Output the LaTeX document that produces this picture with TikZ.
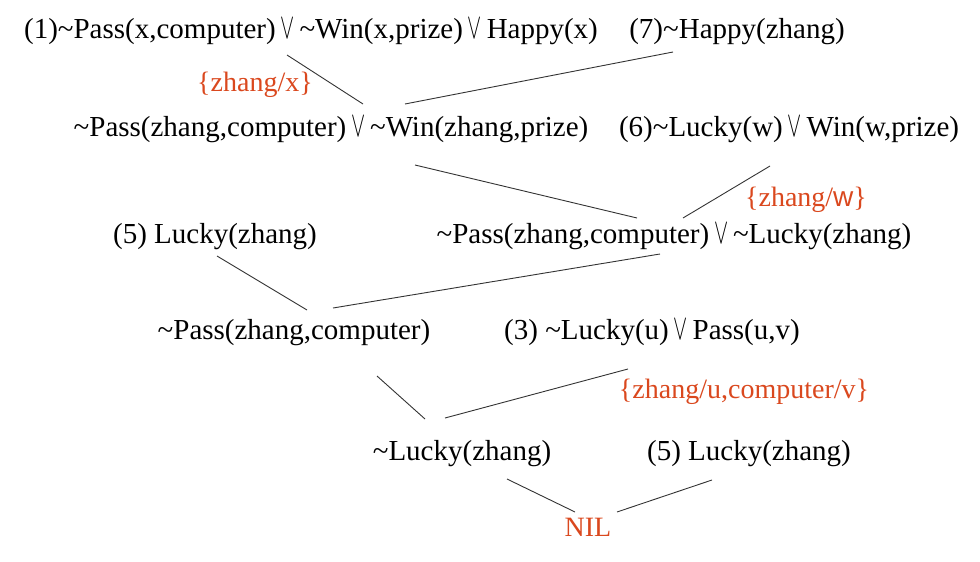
\documentclass[tikz,border=0pt]{standalone}
\usepackage{graphicx}
\usepackage{fontspec}
\setmainfont{Liberation Serif}
\setsansfont{Liberation Sans}
\definecolor{subred}{RGB}{218,72,30}
\newcommand{\myor}{\,\scalebox{0.85}[1.45]{$\vee$}\,}
\tikzset{
  clause/.style={inner sep=0pt, font=\fontsize{29}{33}\selectfont, text=black},
  subst/.style={inner sep=0pt, font=\fontsize{28}{32}\selectfont, text=subred},
  edge/.style={draw=black!80, line width=0.9pt}
}
\begin{document}
\begin{tikzpicture}[x=1pt,y=-1pt]
\useasboundingbox (0,0) rectangle (980,562);
% clauses
\node[clause] (c1) at (311,32) {(1)\char`~Pass(x,computer)\myor\char`~Win(x,prize)\myor Happy(x)};
\node[clause] (c7) at (737,32) {(7)\char`~Happy(zhang)};
\node[subst] (s1) at (255,85) {\{zhang/x\}};
\node[clause] (r1) at (331,130) {\char`~Pass(zhang,computer)\myor\char`~Win(zhang,prize)};
\node[clause] (c6) at (789,130) {(6)\char`~Lucky(w)\myor Win(w,prize)};
\node[subst] (s2) at (806,200) {\{zhang/{\sffamily w}\}};
\node[clause] (c5a) at (215,237) {(5) Lucky(zhang)};
\node[clause] (r2) at (674,237) {\char`~Pass(zhang,computer)\myor\char`~Lucky(zhang)};
\node[clause] (r3) at (294,333) {\char`~Pass(zhang,computer)};
\node[clause] (c3) at (652,333) {(3) \char`~Lucky(u)\myor Pass(u,v)};
\node[subst] (s3) at (744,392) {\{zhang/u,computer/v\}};
\node[clause] (r4) at (462,454) {\char`~Lucky(zhang)};
\node[clause] (c5b) at (749,454) {(5) Lucky(zhang)};
\node[subst] (nil) at (588,527) {NIL};
% connector ends
\coordinate (c1b) at (287,55);
\coordinate (c7b) at (673,52);
\coordinate (r1ta) at (363,104);
\coordinate (r1tb) at (405,104);
\coordinate (r1b) at (415,165);
\coordinate (c6b) at (770,166);
\coordinate (r2ta) at (637,218);
\coordinate (r2tb) at (683,218);
\coordinate (c5ab) at (217,256);
\coordinate (r2b) at (660,254);
\coordinate (r3ta) at (307,310);
\coordinate (r3tb) at (333,308);
\coordinate (r3b) at (377,376);
\coordinate (c3b) at (628,369);
\coordinate (r4ta) at (425,419);
\coordinate (r4tb) at (445,418);
\coordinate (r4b) at (507,479);
\coordinate (c5bb) at (712,480);
\coordinate (nilta) at (575,512);
\coordinate (niltb) at (617,512);
% connectors
\draw[edge] (c1b) -- (r1ta);
\draw[edge] (c7b) -- (r1tb);
\draw[edge] (r1b) -- (r2ta);
\draw[edge] (c6b) -- (r2tb);
\draw[edge] (c5ab) -- (r3ta);
\draw[edge] (r2b) -- (r3tb);
\draw[edge] (r3b) -- (r4ta);
\draw[edge] (c3b) -- (r4tb);
\draw[edge] (r4b) -- (nilta);
\draw[edge] (c5bb) -- (niltb);
\end{tikzpicture}
\end{document}
